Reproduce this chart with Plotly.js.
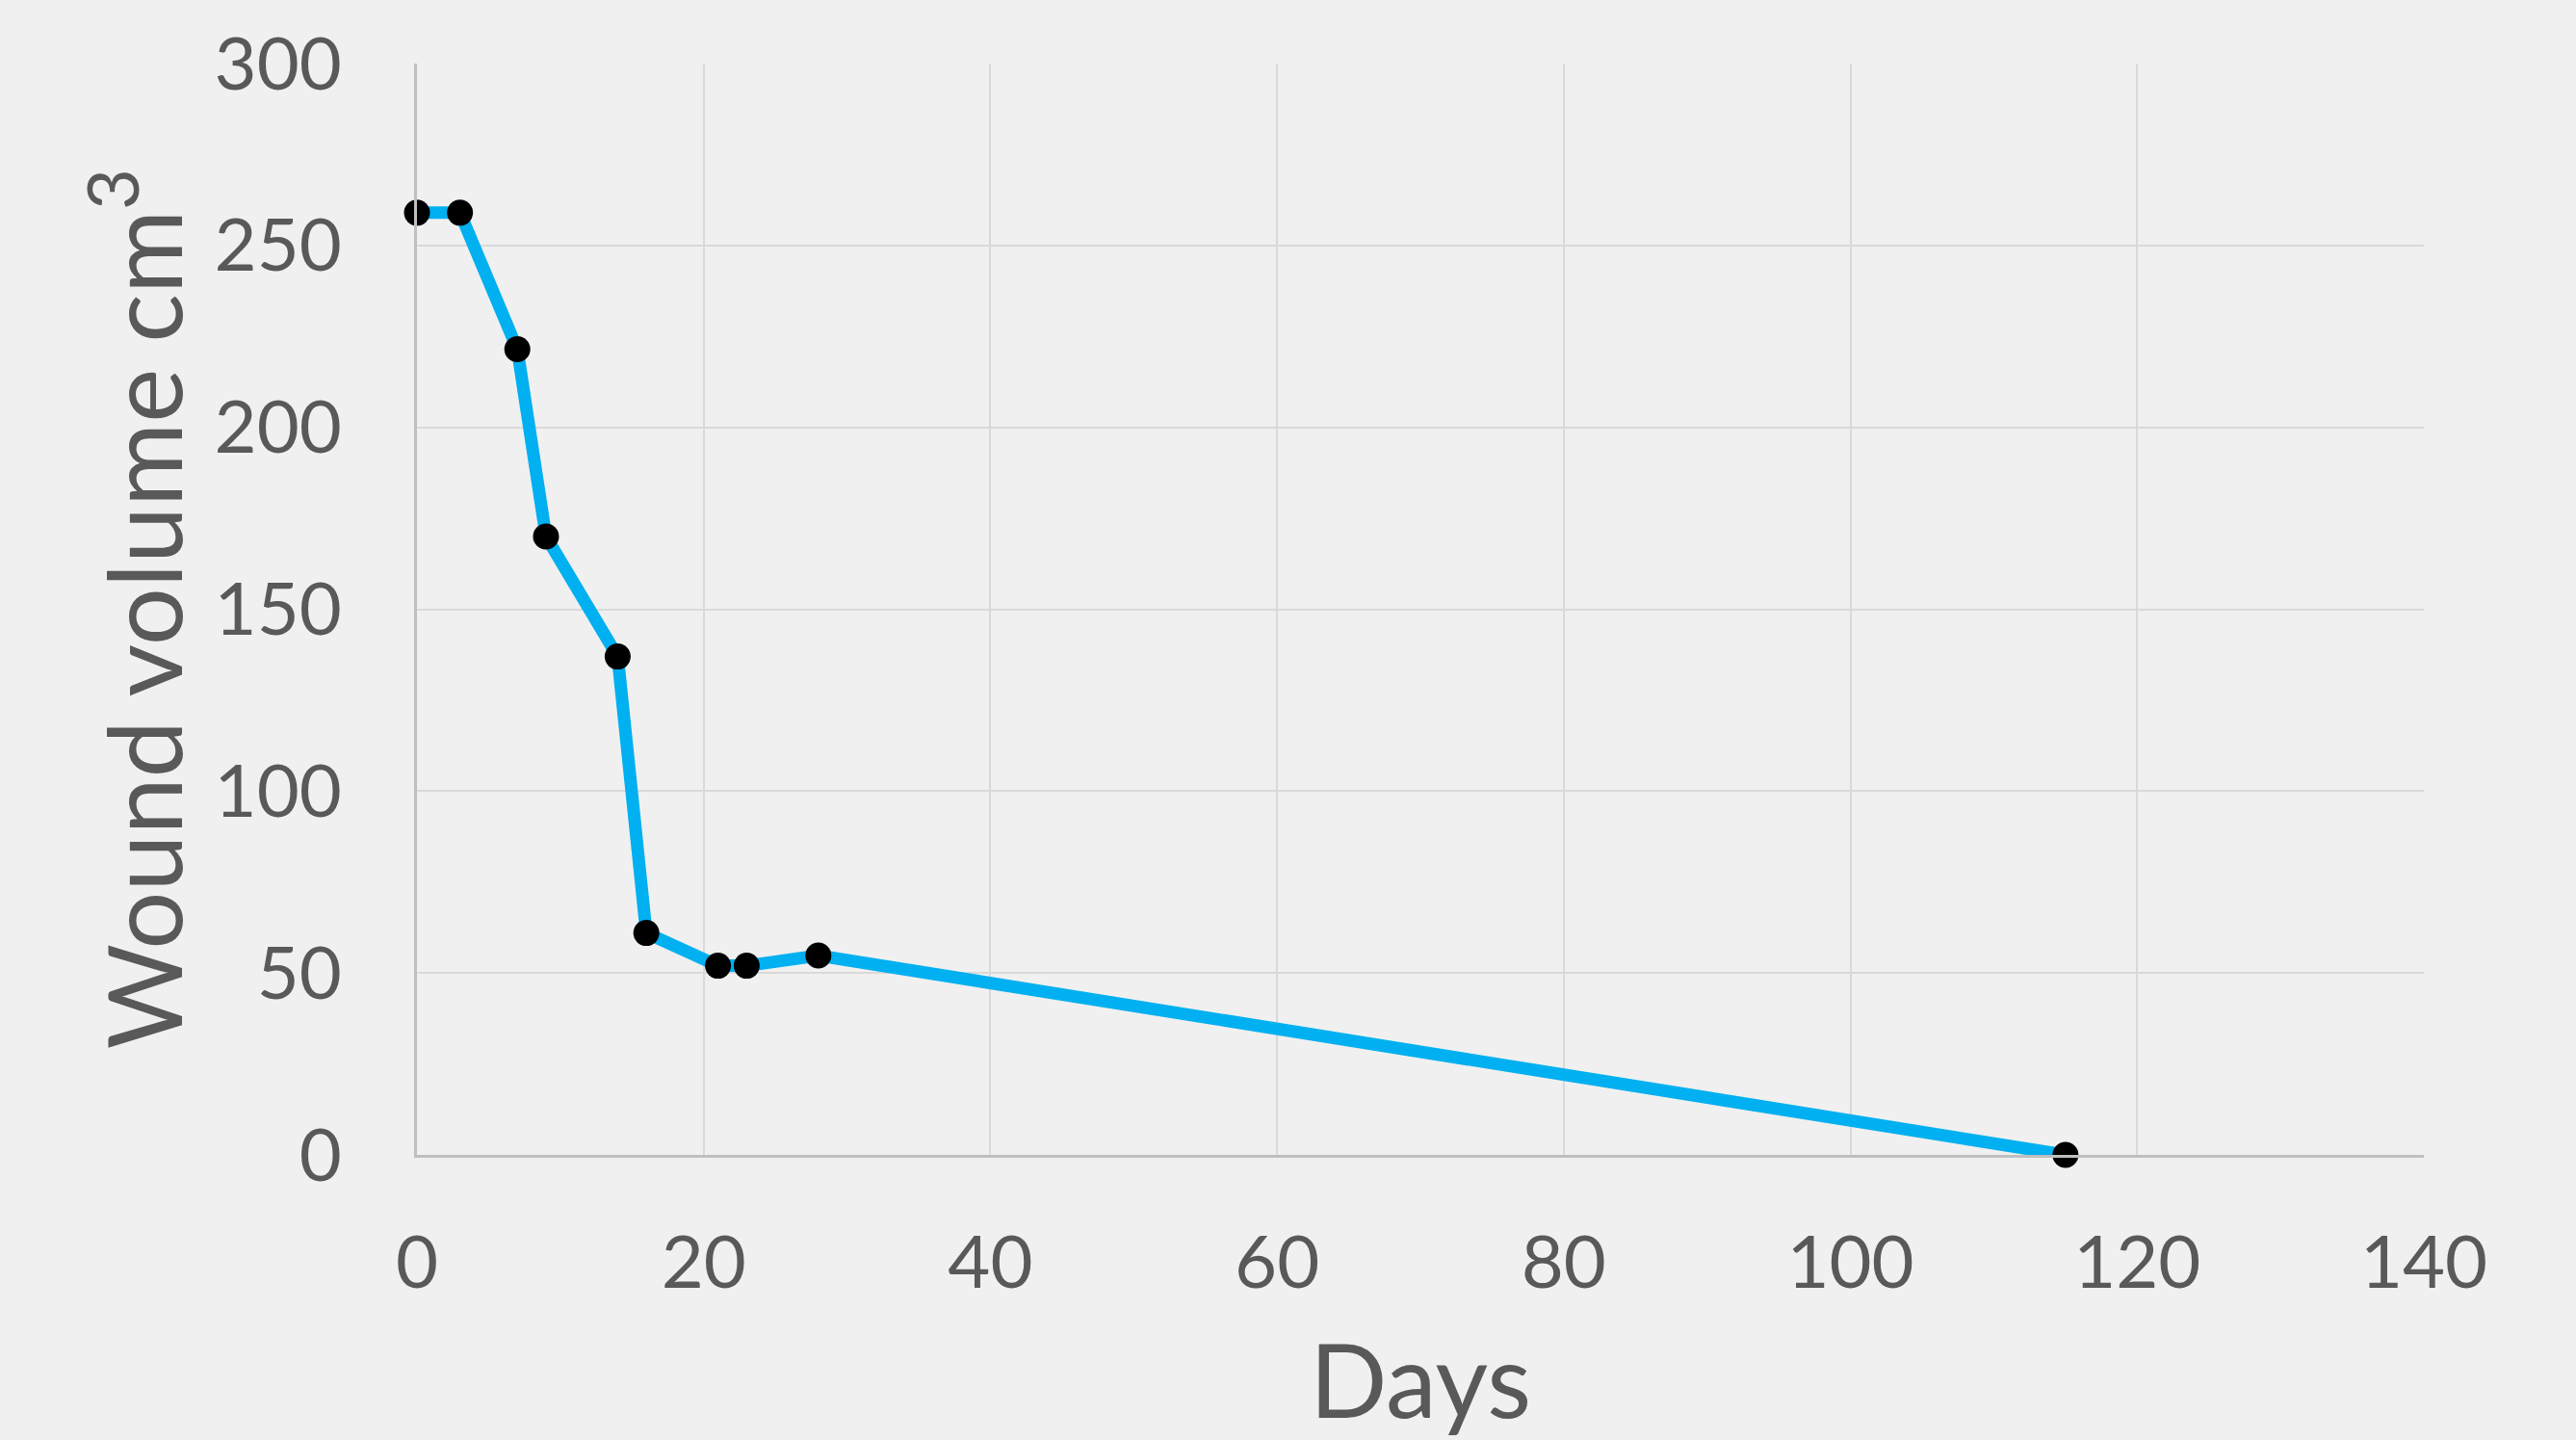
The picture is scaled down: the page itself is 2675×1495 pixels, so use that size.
<!DOCTYPE html>
<html>
<head>
<meta charset="utf-8">
<script src="https://cdn.plot.ly/plotly-3.0.1.min.js"></script>
<style>html,body{margin:0;padding:0;background:#f0f0f0;}</style>
</head>
<body>
<div id="chart" style="width:2675px;height:1495px;"></div>
<script>
var days = [0, 3, 7, 9, 14, 16, 21, 23, 28, 115];
var woundVolume = [259, 259, 221.5, 170, 137, 61, 52, 52, 54.8, 0];
var xTicks = [0, 20, 40, 60, 80, 100, 120, 140];
var yTicks = [0, 50, 100, 150, 200, 250, 300];
var xTitle = 'Days';
var yTitle = 'Wound volume cm<sup>3</sup>';

var FONT = 'Lato, "Open Sans", sans-serif';
var TXT = '#595959';

var trace = {
  x: days,
  y: woundVolume,
  type: 'scatter',
  mode: 'lines+markers',
  line: {color: '#00b0f0', width: 13},
  marker: {color: '#000000', size: 27},
  cliponaxis: false,
  hoverinfo: 'skip'
};

var layout = {
  width: 2675,
  height: 1495,
  paper_bgcolor: '#f0f0f0',
  plot_bgcolor: '#f0f0f0',
  margin: {l: 433, r: 158, t: 66, b: 296},
  showlegend: false,
  font: {family: FONT, color: TXT},
  xaxis: {
    range: [0, 140],
    tickvals: xTicks,
    ticktext: xTicks.map(String),
    showgrid: true,
    gridcolor: '#d9d9d9',
    gridwidth: 2,
    zeroline: false,
    showline: true,
    linecolor: '#bfbfbf',
    linewidth: 3,
    ticks: '',
    ticklabelstandoff: 44,
    tickfont: {family: FONT, size: 76, color: TXT},
    title: {text: xTitle, font: {family: FONT, size: 106, color: TXT}, standoff: 60},
    automargin: false
  },
  yaxis: {
    range: [0, 300],
    tickvals: yTicks,
    ticktext: yTicks.map(String),
    showgrid: true,
    gridcolor: '#d9d9d9',
    gridwidth: 2,
    zeroline: false,
    showline: true,
    linecolor: '#bfbfbf',
    linewidth: 3,
    ticks: '',
    ticklabelstandoff: 60,
    tickfont: {family: FONT, size: 76, color: TXT},
    automargin: false
  },
  annotations: [{
    text: yTitle,
    xref: 'paper', yref: 'paper',
    x: 0, y: 0.5,
    xanchor: 'center', yanchor: 'middle',
    xshift: -291,
    textangle: -90,
    showarrow: false,
    font: {family: FONT, size: 106, color: TXT}
  }]
};

Plotly.newPlot('chart', [trace], layout, {staticPlot: true, displayModeBar: false});
</script>
</body>
</html>
